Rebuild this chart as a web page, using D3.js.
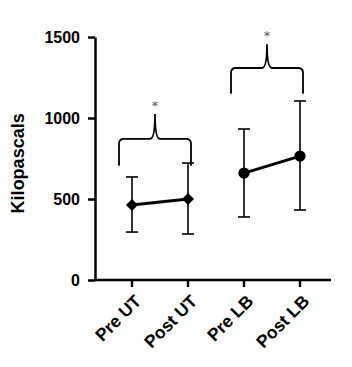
<!DOCTYPE html>
<html>
<head>
<meta charset="utf-8">
<script src="https://cdn.jsdelivr.net/npm/d3@7"></script>
<style>
  body { margin: 0; background: #fff; }
  svg { display: block; font-family: Arial, "Liberation Sans", sans-serif; }
</style>
</head>
<body>
<div id="chart"></div>
<script>
// data
const categories = ["Pre UT", "Post UT", "Pre LB", "Post LB"];
const means = [463, 500, 660, 765];
const errHigh = [636, 722, 932, 1105];
const errLow = [296, 284, 389, 432];
const markerShapes = ["diamond", "diamond", "circle", "circle"];
const yTicks = [0, 500, 1000, 1500];
// brace groups: which two categories, base value, top value
const braceGroups = [["Pre UT", "Post UT"], ["Pre LB", "Post LB"]];
const braceBase = [705, 1150];
const braceTip = [1025, 1455];
const braceLabels = ["*", "*"];

const width = 352, height = 367;
const axisX = 95, axisRight = 331;

const svg = d3.select("#chart").append("svg")
  .attr("width", width)
  .attr("height", height);

const x = d3.scaleBand()
  .domain(categories)
  .range([104, 328]);

const y = d3.scaleLinear()
  .domain([0, 1500])
  .range([280, 37]);

const cx = d => x(d) + x.bandwidth() / 2;

// y axis
const yAxis = svg.append("g")
  .attr("transform", `translate(${axisX},0)`)
  .call(d3.axisLeft(y).tickValues(yTicks).tickFormat(d3.format("d")).tickSize(7).tickSizeOuter(0));
yAxis.select(".domain").attr("stroke-width", 2.5);
yAxis.selectAll(".tick line").attr("stroke-width", 2.5);
yAxis.selectAll(".tick text")
  .attr("x", -15)
  .style("font-size", "16px")
  .style("font-weight", "bold")
  .attr("fill", "#000");

// x axis
const xAxis = svg.append("g")
  .attr("transform", `translate(0,${y(0)})`)
  .call(d3.axisBottom(x).tickSize(7).tickSizeOuter(0));
xAxis.select(".domain").remove();
xAxis.append("line")
  .attr("x1", axisX - 1.2).attr("x2", axisRight)
  .attr("stroke", "#000").attr("stroke-width", 2.5);
xAxis.selectAll(".tick line").attr("stroke-width", 2.5);
xAxis.selectAll(".tick text")
  .attr("text-anchor", "end")
  .attr("transform", "translate(6,18) rotate(-45)")
  .attr("x", 0).attr("y", 0).attr("dy", "0.35em")
  .style("font-size", "17.5px")
  .style("font-weight", "bold")
  .attr("fill", "#000");

// y label
svg.append("text")
  .attr("transform", `translate(24,${y(720)}) rotate(-90)`)
  .attr("text-anchor", "middle")
  .style("font-size", "18px")
  .style("font-weight", "bold")
  .text("Kilopascals");

// error bars
const capW = 12;
categories.forEach((c, i) => {
  const g = svg.append("g").attr("stroke", "#000").attr("stroke-width", 1.6);
  g.append("line").attr("x1", cx(c)).attr("x2", cx(c)).attr("y1", y(errLow[i])).attr("y2", y(errHigh[i]));
  g.append("line").attr("x1", cx(c) - capW / 2).attr("x2", cx(c) + capW / 2).attr("y1", y(errLow[i])).attr("y2", y(errLow[i]));
  g.append("line").attr("x1", cx(c) - capW / 2).attr("x2", cx(c) + capW / 2).attr("y1", y(errHigh[i])).attr("y2", y(errHigh[i]));
});

// connecting lines (pre -> post)
braceGroups.forEach(pair => {
  const i0 = categories.indexOf(pair[0]), i1 = categories.indexOf(pair[1]);
  svg.append("line")
    .attr("x1", cx(pair[0])).attr("y1", y(means[i0]))
    .attr("x2", cx(pair[1])).attr("y2", y(means[i1]))
    .attr("stroke", "#000").attr("stroke-width", 2.8);
});

// markers
svg.selectAll(".marker")
  .data(categories)
  .join("path")
  .attr("class", "marker")
  .attr("transform", (d, i) => `translate(${cx(d)},${y(means[i])})`)
  .attr("d", (d, i) => markerShapes[i] === "diamond"
    ? "M0,-6L6,0L0,6L-6,0Z"
    : d3.symbol(d3.symbolCircle, 100)())
  .attr("fill", "#000");

// braces with significance stars
braceGroups.forEach((pair, k) => {
  const xl = cx(pair[0]) - 13, xr = cx(pair[1]) + 3;
  const xm = (xl + xr) / 2;
  const yb = y(braceBase[k]), yt = y(braceTip[k]);
  const yh = yb - (yb - yt) * 0.52;
  const r = 5;
  const p = d3.path();
  p.moveTo(xl, yb);
  p.lineTo(xl, yh + r);
  p.quadraticCurveTo(xl, yh, xl + r, yh);
  p.lineTo(xm - r, yh);
  p.quadraticCurveTo(xm, yh, xm, yt);
  p.quadraticCurveTo(xm, yh, xm + r, yh);
  p.lineTo(xr - r, yh);
  p.quadraticCurveTo(xr, yh, xr, yh + r);
  p.lineTo(xr, yb);
  svg.append("path")
    .attr("d", p.toString())
    .attr("fill", "none")
    .attr("stroke", "#000")
    .attr("stroke-width", 1.8);
  svg.append("text")
    .attr("x", xm)
    .attr("y", yt - 4)
    .attr("text-anchor", "middle")
    .style("font-size", "13px")
    .style("font-family", "'DejaVu Sans', sans-serif")
    .attr("fill", "#555")
    .text(braceLabels[k]);
});
</script>
</body>
</html>
